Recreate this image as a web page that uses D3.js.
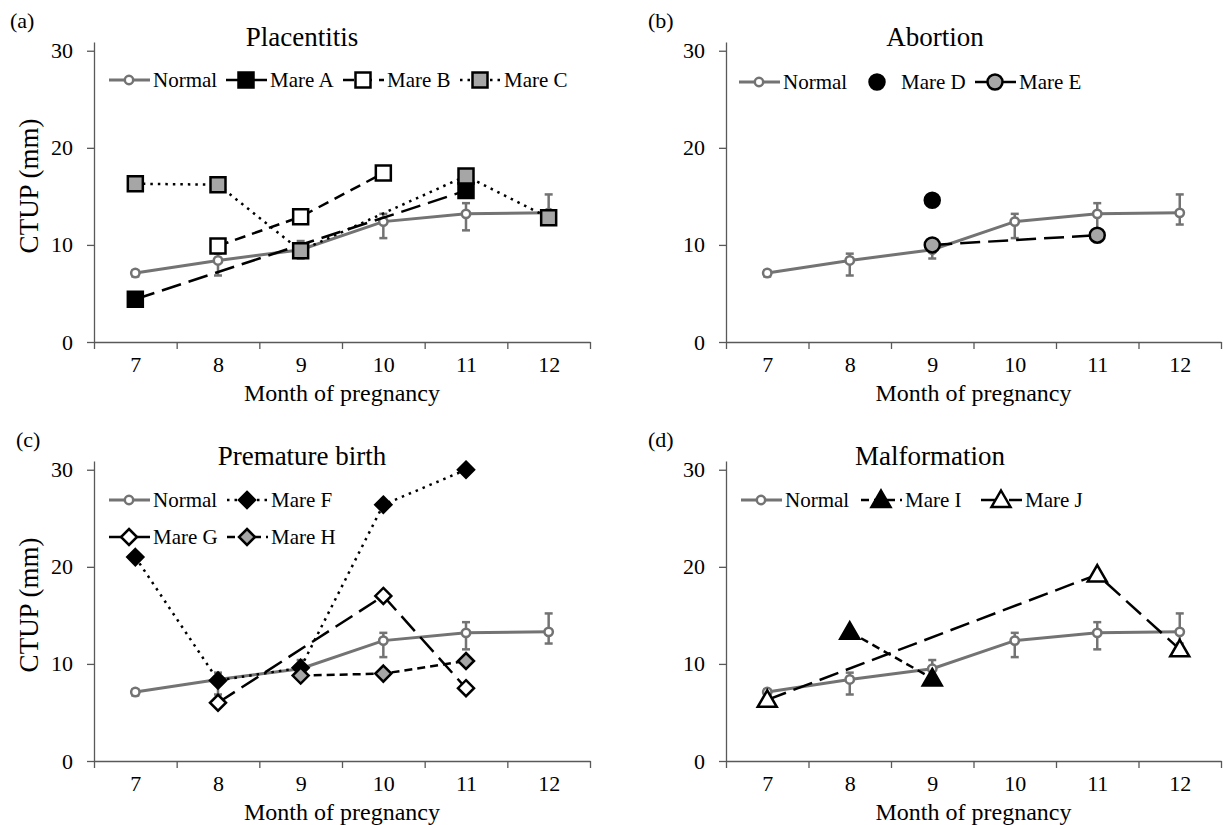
<!DOCTYPE html>
<html>
<head>
<meta charset="utf-8">
<script src="https://cdnjs.cloudflare.com/ajax/libs/d3/7.8.5/d3.min.js"></script>
<style>
body { margin: 0; background: #fff; }
</style>
</head>
<body>
<svg id="chart" width="1223" height="825"></svg>
<script>
// ---- data (CTUP in mm, by month of pregnancy) ----
var months = [7, 8, 9, 10, 11, 12];
var yTicks = [0, 10, 20, 30];

var normalMean = [7.1, 8.4, 9.5, 12.4, 13.2, 13.3];
var normalHigh = [7.4, 9.1, 10.4, 13.2, 14.3, 15.2];
var normalLow  = [6.75, 6.85, 8.6, 10.7, 11.5, 12.1];

var mareA = [4.4, null, null, null, 15.6, null];
var mareB = [null, 9.9, 12.9, 17.4, null, null];
var mareC = [16.3, 16.2, 9.4, null, 17.1, 12.8];
var mareD = [null, null, 14.6, null, null, null];
var mareE = [null, null, 10.0, null, 11.0, null];
var mareF = [21.0, 8.3, 9.6, 26.4, 30.0, null];
var mareG = [null, 6.0, null, 17.0, 7.5, null];
var mareH = [null, null, 8.8, 9.0, 10.3, null];
var mareI = [null, 13.3, 8.5, null, null, null];
var mareJ = [6.3, null, null, null, 19.2, 11.5];

var SERIF = '"Liberation Serif", "Times New Roman", serif';
var GRAY = "#737373", LIGHT = "#a6a6a6", AXIS = "#595959";

// dash styles, Excel-like
var LONG = "20,8", DASH = "11,7", SHORT = "8,5", DOT = "2.5,5";

var panels = [
    { label: "(a)", labelX: 10, title: "Placentitis", titleX: 302, left: 94, right: 590, top: 42, bottom: 342, yLabel: true,
      legend: { x0: 109, dx: 117, rows: [80], perRow: 4 },
      series: [
          { name: "Mare A", values: mareA, dash: LONG, shape: "square", fill: "#000" },
          { name: "Mare B", values: mareB, dash: DASH, shape: "square", fill: "#fff" },
          { name: "Mare C", values: mareC, dash: DOT, shape: "square", fill: LIGHT }
      ] },
    { label: "(b)", labelX: 648, title: "Abortion", titleX: 935, left: 726, right: 1221, top: 42, bottom: 342, yLabel: false,
      legend: { x0: 739, dx: 118, rows: [82], perRow: 3 },
      series: [
          { name: "Mare D", values: mareD, dash: "none", shape: "circle", fill: "#000" },
          { name: "Mare E", values: mareE, dash: LONG, shape: "circle", fill: LIGHT }
      ] },
    { label: "(c)", labelX: 16, title: "Premature birth", titleX: 302, left: 94, right: 590, top: 461, bottom: 761, yLabel: true,
      legend: { x0: 109, dx: 118, rows: [500, 537], perRow: 2 },
      series: [
          { name: "Mare F", values: mareF, dash: DOT, shape: "diamond", fill: "#000" },
          { name: "Mare G", values: mareG, dash: LONG, shape: "diamond", fill: "#fff" },
          { name: "Mare H", values: mareH, dash: SHORT, shape: "diamond", fill: LIGHT }
      ] },
    { label: "(d)", labelX: 648, title: "Malformation", titleX: 930, left: 726, right: 1221, top: 461, bottom: 761, yLabel: false,
      legend: { x0: 741, dx: 120, rows: [500], perRow: 3 },
      series: [
          { name: "Mare I", values: mareI, dash: SHORT, shape: "triangle", fill: "#000" },
          { name: "Mare J", values: mareJ, dash: LONG, shape: "triangle", fill: "#fff" }
      ] }
];

var svg = d3.select("#chart");

function markerPath(shape) {
    if (shape === "square") return "M-7.5,-7.5h15v15h-15z";
    if (shape === "diamond") return "M0,-8L8,0L0,8L-8,0z";
    if (shape === "triangle") return "M0,-9.5L9.5,7L-9.5,7z";
    return "M7.5,0A7.5,7.5 0 1,1 -7.5,0A7.5,7.5 0 1,1 7.5,0z";
}

function drawMarker(g, s, cx, cy) {
    g.append("path")
        .attr("d", markerPath(s.shape))
        .attr("transform", "translate(" + cx + "," + cy + ")")
        .attr("fill", s.fill)
        .attr("stroke", "#000")
        .attr("stroke-width", 2.5)
        .attr("stroke-linejoin", "miter");
}

function drawNormalMarker(g, cx, cy) {
    g.append("circle")
        .attr("cx", cx).attr("cy", cy).attr("r", 4.2)
        .attr("fill", "#fff")
        .attr("stroke", GRAY)
        .attr("stroke-width", 2.5);
}

function pairs(values) {
    return months.map(function (m, i) { return { m: m, v: values[i] }; })
        .filter(function (d) { return d.v !== null; });
}

function drawPanel(p) {
    var g = svg.append("g");
    var x = d3.scaleLinear().domain([6.5, 12.5]).range([p.left, p.right]);
    var y = d3.scaleLinear().domain([0, 30.9]).range([p.bottom, p.top]);

    // y axis
    var ya = g.append("g")
        .attr("transform", "translate(" + p.left + ",0)")
        .call(d3.axisLeft(y).tickValues(yTicks).tickSize(7).tickSizeOuter(0).tickPadding(14));

    // x axis: tick marks between the months, labels under each month
    var xa = g.append("g")
        .attr("transform", "translate(0," + p.bottom + ")")
        .call(d3.axisBottom(x).tickValues(d3.range(6.5, 12.6, 1)).tickSize(7).tickSizeOuter(0).tickFormat(""));
    var xl = g.append("g")
        .attr("transform", "translate(0," + p.bottom + ")")
        .call(d3.axisBottom(x).tickValues(months).tickSize(0).tickPadding(14).tickFormat(d3.format("d")));
    xl.select(".domain").remove();

    [ya, xa, xl].forEach(function (a) {
        a.attr("font-family", SERIF).attr("font-size", 22);
        a.selectAll("path, line").attr("stroke", AXIS).attr("stroke-width", 1.3);
        a.selectAll("text").attr("fill", "#000");
    });

    // titles and labels
    g.append("text").attr("x", p.labelX).attr("y", p.top - 14)
        .attr("font-family", SERIF).attr("font-size", 22).text(p.label);
    g.append("text").attr("x", p.titleX).attr("y", p.top + 4)
        .attr("text-anchor", "middle").attr("font-family", SERIF).attr("font-size", 27).text(p.title);
    g.append("text").attr("x", (p.left + p.right) / 2).attr("y", p.bottom + 59)
        .attr("text-anchor", "middle").attr("font-family", SERIF).attr("font-size", 24).text("Month of pregnancy");
    if (p.yLabel) {
        g.append("text")
            .attr("transform", "translate(29," + (p.bottom - 156) + ") rotate(-90)")
            .attr("text-anchor", "middle").attr("dy", "0.35em")
            .attr("font-family", SERIF).attr("font-size", 27).text("CTUP (mm)");
    }

    var line = d3.line().x(function (d) { return x(d.m); }).y(function (d) { return y(d.v); });

    // normal mares: mean line, error bars, markers
    g.append("path").datum(pairs(normalMean))
        .attr("d", line).attr("fill", "none")
        .attr("stroke", GRAY).attr("stroke-width", 3);
    months.forEach(function (m, i) {
        var cx = x(m);
        g.append("line").attr("x1", cx).attr("x2", cx)
            .attr("y1", y(normalLow[i])).attr("y2", y(normalHigh[i]))
            .attr("stroke", GRAY).attr("stroke-width", 2.5);
        [normalLow[i], normalHigh[i]].forEach(function (v) {
            g.append("line").attr("x1", cx - 4).attr("x2", cx + 4)
                .attr("y1", y(v)).attr("y2", y(v))
                .attr("stroke", GRAY).attr("stroke-width", 2.5);
        });
    });
    months.forEach(function (m, i) { drawNormalMarker(g, x(m), y(normalMean[i])); });

    // individual mares
    p.series.forEach(function (s) {
        var pts = pairs(s.values);
        if (s.dash !== "none") {
            g.append("path").datum(pts)
                .attr("d", line).attr("fill", "none")
                .attr("stroke", "#000").attr("stroke-width", 2.5)
                .attr("stroke-dasharray", s.dash);
        }
        pts.forEach(function (d) { drawMarker(g, s, x(d.m), y(d.v)); });
    });

    // legend
    var items = [{ name: "Normal", normal: true }].concat(p.series);
    items.forEach(function (s, i) {
        var row = Math.floor(i / p.legend.perRow), col = i % p.legend.perRow;
        var sx = p.legend.x0 + col * p.legend.dx, sy = p.legend.rows[row];
        var lg = g.append("g");
        if (s.normal) {
            lg.append("line").attr("x1", sx).attr("x2", sx + 41).attr("y1", sy).attr("y2", sy)
                .attr("stroke", GRAY).attr("stroke-width", 3);
            drawNormalMarker(lg, sx + 20, sy);
        } else {
            if (s.dash !== "none") {
                lg.append("line").attr("x1", sx).attr("x2", sx + 41).attr("y1", sy).attr("y2", sy)
                    .attr("stroke", "#000").attr("stroke-width", 2.5)
                    .attr("stroke-dasharray", s.dash);
            }
            drawMarker(lg, s, sx + 20, sy);
        }
        lg.append("text").attr("x", sx + 44).attr("y", sy).attr("dy", "0.35em")
            .attr("font-family", SERIF).attr("font-size", 21).text(s.name);
    });
}

panels.forEach(drawPanel);
</script>
</body>
</html>
